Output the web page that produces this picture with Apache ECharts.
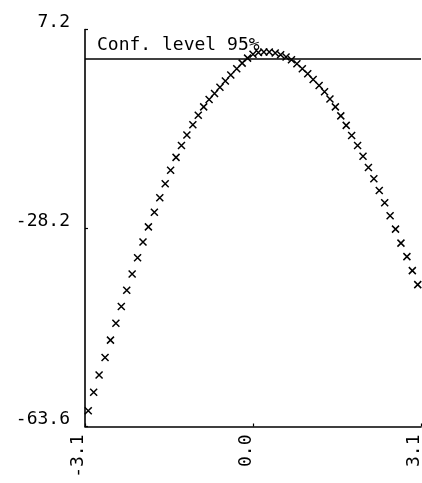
<!DOCTYPE html>
<html>
<head>
<meta charset="utf-8">
<script src="https://cdn.jsdelivr.net/npm/echarts@6/dist/echarts.min.js"></script>
<style>
html,body{margin:0;padding:0;background:#fff;}
#c{width:422px;height:483px;}
</style>
</head>
<body>
<div id="c"></div>
<script>
// x positions of the markers
var xValues = [-3.04,-2.94,-2.84,-2.73,-2.63,-2.53,-2.43,-2.33,-2.23,-2.13,
  -2.03,-1.93,-1.82,-1.72,-1.62,-1.52,-1.42,-1.32,-1.22,-1.11,
  -1.01,-0.91,-0.81,-0.71,-0.61,-0.51,-0.41,-0.30,-0.20,-0.10,
  0.00,0.10,0.20,0.30,0.41,0.51,0.61,0.71,0.81,0.91,
  1.01,1.11,1.22,1.32,1.42,1.52,1.62,1.72,1.82,1.93,
  2.03,2.13,2.23,2.33,2.43,2.53,2.63,2.73,2.84,2.94,3.04];
// y values of the markers
var yValues = [-60.8,-57.5,-54.4,-51.3,-48.2,-45.2,-42.2,-39.3,-36.4,-33.5,
  -30.7,-28.0,-25.4,-22.8,-20.3,-17.9,-15.6,-13.5,-11.6,-9.8,
  -8.1,-6.6,-5.3,-4.2,-3.1,-2.0,-0.9,0.2,1.2,2.1,
  2.8,3.1,3.2,3.2,3.0,2.7,2.3,1.8,1.1,0.2,
  -0.7,-1.7,-2.8,-3.9,-5.2,-6.6,-8.2,-9.9,-11.7,-13.5,
  -15.4,-17.4,-19.4,-21.5,-23.7,-26.0,-28.4,-30.9,-33.3,-35.8,-38.3];
var confLevel = 2.0;
var confLabel = 'Conf. level 95%';
var xTicks = [-3.1, 0.0, 3.1];
var yTicks = [7.2, -28.2, -63.6];

var pts = [];
for (var i = 0; i < xValues.length; i++) pts.push([xValues[i], yValues[i]]);

var FONT = 'DejaVu Sans Mono';
var chart = echarts.init(document.getElementById('c'), null, {renderer: 'canvas'});
chart.setOption({
  animation: false,
  backgroundColor: '#fff',
  grid: {left: 85, right: 1, top: 29.5, bottom: 56.5, containLabel: false, outerBoundsMode: 'none'},
  xAxis: {
    type: 'value',
    min: xTicks[0], max: xTicks[xTicks.length - 1],
    splitLine: {show: false},
    axisLine: {show: true, onZero: false, lineStyle: {color: '#000', width: 1.6}},
    axisTick: {show: true, length: 3, inside: true, customValues: xTicks, lineStyle: {color: '#000', width: 1.2}},
    axisLabel: {
      customValues: xTicks,
      rotate: 90,
      margin: 8,
      fontFamily: FONT, fontSize: 18, color: '#000',
      verticalAlign: 'bottom', lineHeight: 14,
      formatter: function (v) { return v.toFixed(1); }
    }
  },
  yAxis: {
    type: 'value',
    min: yTicks[yTicks.length - 1], max: yTicks[0],
    splitLine: {show: false},
    axisLine: {show: true, onZero: false, lineStyle: {color: '#000', width: 1.6}},
    axisTick: {show: true, length: 3, inside: true, customValues: yTicks, lineStyle: {color: '#000', width: 1.2}},
    axisLabel: {
      customValues: yTicks,
      margin: 15,
      fontFamily: FONT, fontSize: 18, color: '#000',
      verticalAlign: 'bottom', lineHeight: 14,
      formatter: function (v) { return v.toFixed(1); }
    }
  },
  series: [{
    type: 'scatter',
    data: pts,
    symbol: 'path://M0,0L10,10M10,0L0,10',
    symbolSize: 7,
    itemStyle: {color: 'rgba(0,0,0,0)', borderColor: '#000', borderWidth: 1.5, opacity: 1},
    emphasis: {disabled: true},
    silent: true,
    markLine: {
      silent: true,
      symbol: 'none',
      lineStyle: {color: '#000', width: 1.6, type: 'solid'},
      label: {
        show: true,
        position: 'insideStartTop',
        formatter: confLabel,
        fontFamily: FONT, fontSize: 18, color: '#000',
        distance: [12, 4]
      },
      data: [{yAxis: confLevel}]
    }
  }]
});
</script>
</body>
</html>
